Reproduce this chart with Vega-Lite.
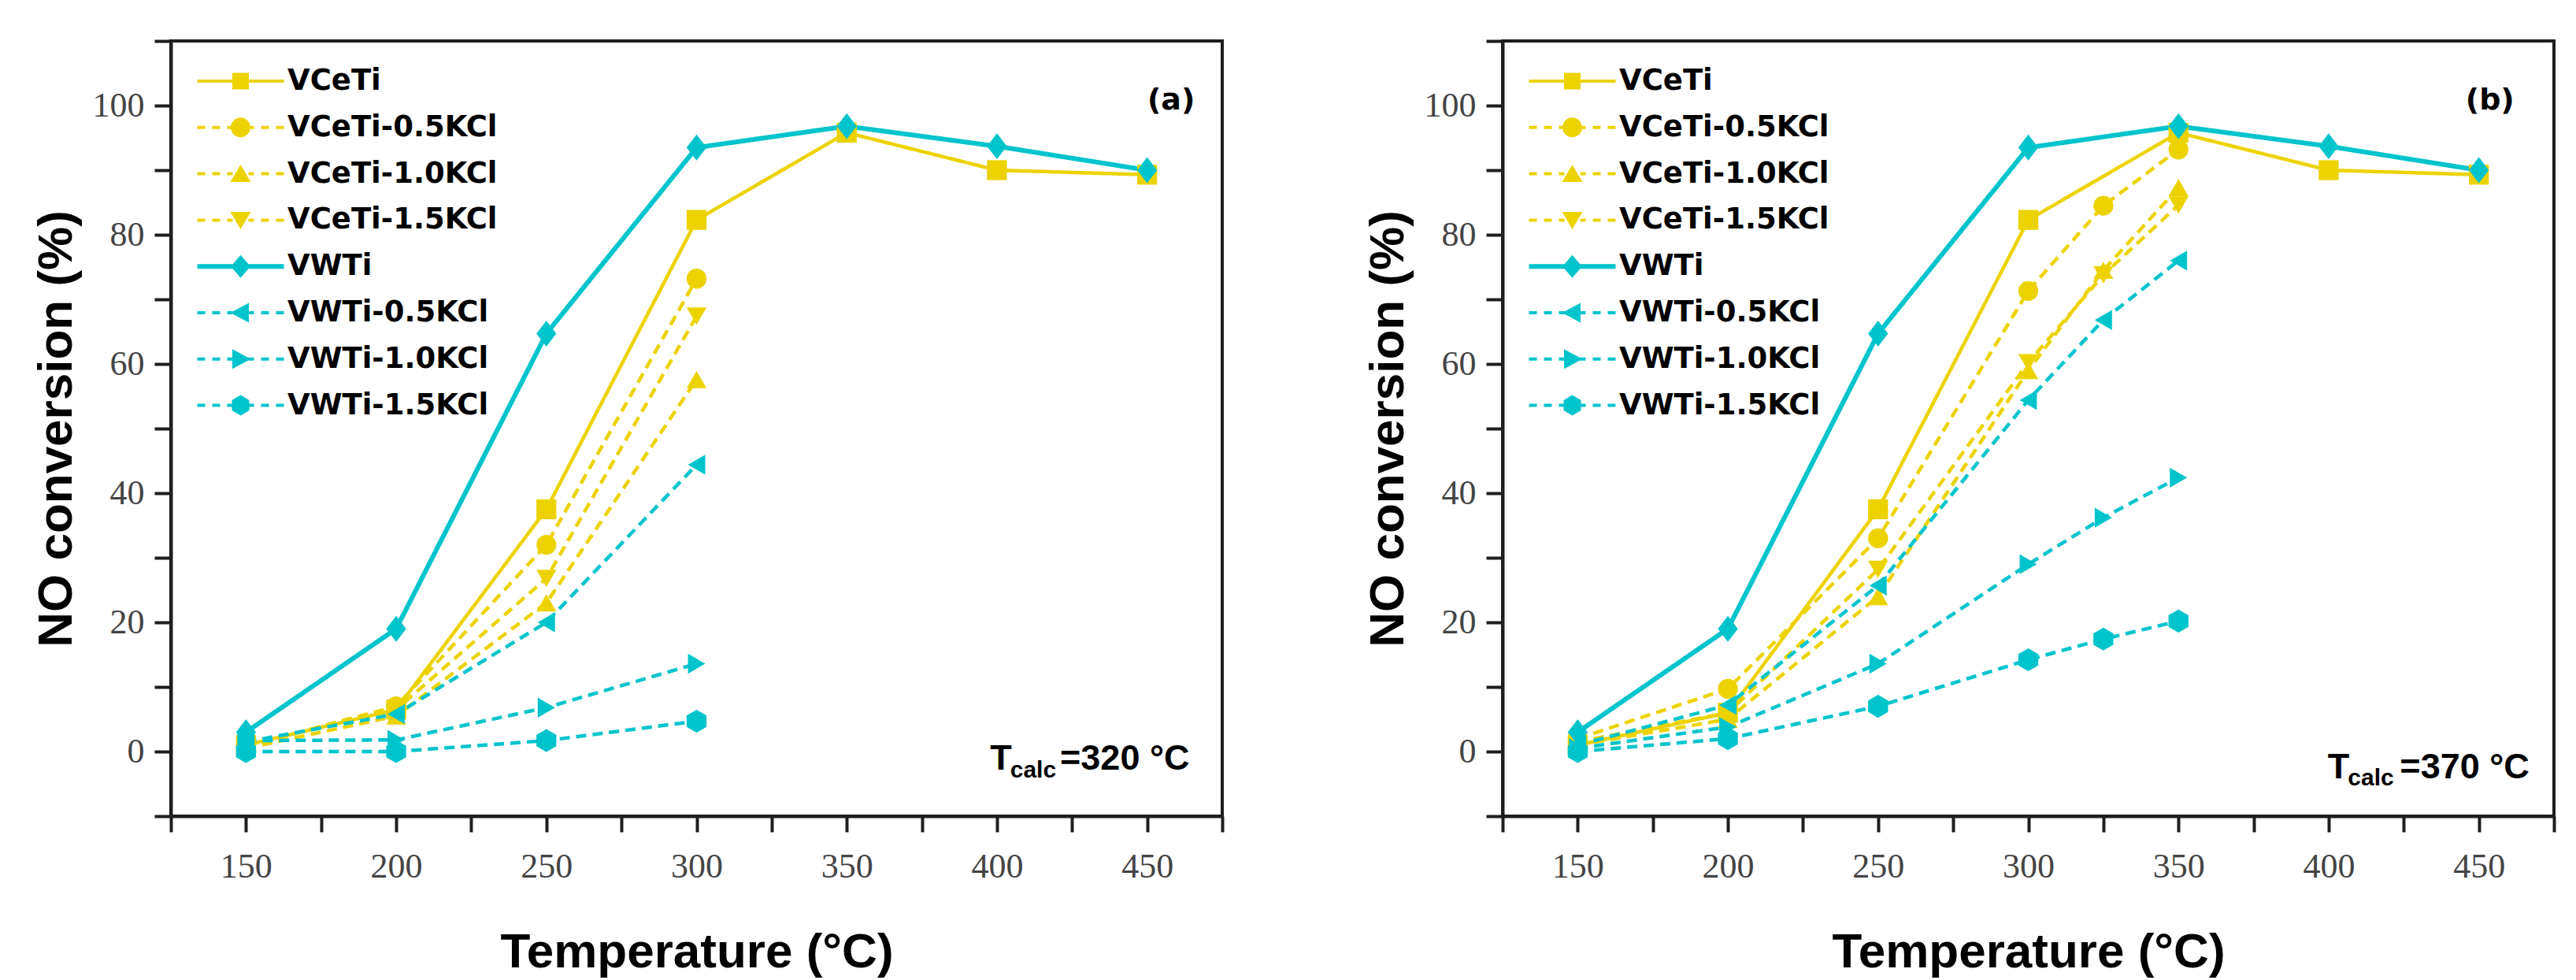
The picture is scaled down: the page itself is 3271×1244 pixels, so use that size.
{
  "$schema": "https://vega.github.io/schema/vega-lite/v6.json",
  "background": "white",
  "padding": {"left": 38, "top": 28, "right": 0, "bottom": 0},
  "spacing": 173,
  "datasets": {
    "a": [
      {"series": "VCeTi", "T": 150, "conv": 1.0},
      {"series": "VCeTi", "T": 200, "conv": 6.5},
      {"series": "VCeTi", "T": 250, "conv": 37.5},
      {"series": "VCeTi", "T": 300, "conv": 82.3},
      {"series": "VCeTi", "T": 350, "conv": 95.8},
      {"series": "VCeTi", "T": 400, "conv": 90.0},
      {"series": "VCeTi", "T": 450, "conv": 89.3},
      {"series": "VCeTi-0.5KCl", "T": 150, "conv": 0.8},
      {"series": "VCeTi-0.5KCl", "T": 200, "conv": 7.0},
      {"series": "VCeTi-0.5KCl", "T": 250, "conv": 32.0},
      {"series": "VCeTi-0.5KCl", "T": 300, "conv": 73.2},
      {"series": "VCeTi-1.0KCl", "T": 150, "conv": 0.5},
      {"series": "VCeTi-1.0KCl", "T": 200, "conv": 5.5},
      {"series": "VCeTi-1.0KCl", "T": 250, "conv": 23.0},
      {"series": "VCeTi-1.0KCl", "T": 300, "conv": 57.6},
      {"series": "VCeTi-1.5KCl", "T": 150, "conv": 1.0},
      {"series": "VCeTi-1.5KCl", "T": 200, "conv": 6.5},
      {"series": "VCeTi-1.5KCl", "T": 250, "conv": 26.8},
      {"series": "VCeTi-1.5KCl", "T": 300, "conv": 67.4},
      {"series": "VWTi", "T": 150, "conv": 3.0},
      {"series": "VWTi", "T": 200, "conv": 19.0},
      {"series": "VWTi", "T": 250, "conv": 64.7},
      {"series": "VWTi", "T": 300, "conv": 93.5},
      {"series": "VWTi", "T": 350, "conv": 96.8},
      {"series": "VWTi", "T": 400, "conv": 93.7},
      {"series": "VWTi", "T": 450, "conv": 90.0},
      {"series": "VWTi-0.5KCl", "T": 150, "conv": 1.5},
      {"series": "VWTi-0.5KCl", "T": 200, "conv": 5.8},
      {"series": "VWTi-0.5KCl", "T": 250, "conv": 20.0},
      {"series": "VWTi-0.5KCl", "T": 300, "conv": 44.4},
      {"series": "VWTi-1.0KCl", "T": 150, "conv": 1.7},
      {"series": "VWTi-1.0KCl", "T": 200, "conv": 1.8},
      {"series": "VWTi-1.0KCl", "T": 250, "conv": 6.8},
      {"series": "VWTi-1.0KCl", "T": 300, "conv": 13.6},
      {"series": "VWTi-1.5KCl", "T": 150, "conv": 0.0},
      {"series": "VWTi-1.5KCl", "T": 200, "conv": 0.0},
      {"series": "VWTi-1.5KCl", "T": 250, "conv": 1.7},
      {"series": "VWTi-1.5KCl", "T": 300, "conv": 4.7}
    ],
    "b": [
      {"series": "VCeTi", "T": 150, "conv": 1.0},
      {"series": "VCeTi", "T": 200, "conv": 6.0},
      {"series": "VCeTi", "T": 250, "conv": 37.5},
      {"series": "VCeTi", "T": 300, "conv": 82.3},
      {"series": "VCeTi", "T": 350, "conv": 95.8},
      {"series": "VCeTi", "T": 400, "conv": 90.0},
      {"series": "VCeTi", "T": 450, "conv": 89.3},
      {"series": "VCeTi-0.5KCl", "T": 150, "conv": 2.0},
      {"series": "VCeTi-0.5KCl", "T": 200, "conv": 9.7},
      {"series": "VCeTi-0.5KCl", "T": 250, "conv": 33.0},
      {"series": "VCeTi-0.5KCl", "T": 300, "conv": 71.3},
      {"series": "VCeTi-0.5KCl", "T": 325, "conv": 84.5},
      {"series": "VCeTi-0.5KCl", "T": 350, "conv": 93.2},
      {"series": "VCeTi-1.0KCl", "T": 150, "conv": 1.0},
      {"series": "VCeTi-1.0KCl", "T": 200, "conv": 5.0},
      {"series": "VCeTi-1.0KCl", "T": 250, "conv": 24.0},
      {"series": "VCeTi-1.0KCl", "T": 300, "conv": 59.0},
      {"series": "VCeTi-1.0KCl", "T": 325, "conv": 74.5},
      {"series": "VCeTi-1.0KCl", "T": 350, "conv": 87.3},
      {"series": "VCeTi-1.5KCl", "T": 150, "conv": 1.5},
      {"series": "VCeTi-1.5KCl", "T": 200, "conv": 6.0},
      {"series": "VCeTi-1.5KCl", "T": 250, "conv": 28.2},
      {"series": "VCeTi-1.5KCl", "T": 300, "conv": 60.2},
      {"series": "VCeTi-1.5KCl", "T": 325, "conv": 73.8},
      {"series": "VCeTi-1.5KCl", "T": 350, "conv": 84.6},
      {"series": "VWTi", "T": 150, "conv": 3.0},
      {"series": "VWTi", "T": 200, "conv": 19.0},
      {"series": "VWTi", "T": 250, "conv": 64.7},
      {"series": "VWTi", "T": 300, "conv": 93.5},
      {"series": "VWTi", "T": 350, "conv": 96.8},
      {"series": "VWTi", "T": 400, "conv": 93.7},
      {"series": "VWTi", "T": 450, "conv": 90.0},
      {"series": "VWTi-0.5KCl", "T": 150, "conv": 1.0},
      {"series": "VWTi-0.5KCl", "T": 200, "conv": 7.2},
      {"series": "VWTi-0.5KCl", "T": 250, "conv": 25.7},
      {"series": "VWTi-0.5KCl", "T": 300, "conv": 54.4},
      {"series": "VWTi-0.5KCl", "T": 325, "conv": 66.8},
      {"series": "VWTi-0.5KCl", "T": 350, "conv": 76.0},
      {"series": "VWTi-1.0KCl", "T": 150, "conv": 0.5},
      {"series": "VWTi-1.0KCl", "T": 200, "conv": 3.8},
      {"series": "VWTi-1.0KCl", "T": 250, "conv": 13.6},
      {"series": "VWTi-1.0KCl", "T": 300, "conv": 29.0},
      {"series": "VWTi-1.0KCl", "T": 325, "conv": 36.2},
      {"series": "VWTi-1.0KCl", "T": 350, "conv": 42.4},
      {"series": "VWTi-1.5KCl", "T": 150, "conv": 0.0},
      {"series": "VWTi-1.5KCl", "T": 200, "conv": 2.0},
      {"series": "VWTi-1.5KCl", "T": 250, "conv": 7.0},
      {"series": "VWTi-1.5KCl", "T": 300, "conv": 14.2},
      {"series": "VWTi-1.5KCl", "T": 325, "conv": 17.4},
      {"series": "VWTi-1.5KCl", "T": 350, "conv": 20.2}
    ],
    "notes": [{"note": "panel"}]
  },
  "hconcat": [
    {
      "data": {"name": "a"},
      "width": 1335,
      "height": 984,
      "resolve": {"scale": {"color": "independent", "shape": "independent"}},
      "layer": [
        {
          "mark": {"type": "line"},
          "encoding": {
            "x": {
              "field": "T", "type": "quantitative",
              "scale": {"domain": [125, 475], "nice": false, "zero": false},
              "axis": {
                "title": "Temperature (°C)",
                "values": [125, 150, 175, 200, 225, 250, 275, 300, 325, 350, 375, 400, 425, 450, 475],
                "labelExpr": "datum.value % 50 === 0 ? datum.label : ''",
                "tickSize": 20, "labelPadding": 22,
                "titleY": 191, "titleBaseline": "alphabetic",
                "encode": {"ticks": {"update": {"y2": {"signal": "datum.value % 50 === 0 ? 20 : 10"}}}}
              }
            },
            "y": {
              "field": "conv", "type": "quantitative",
              "scale": {"domain": [-10, 110], "nice": false, "zero": false},
              "axis": {
                "title": "NO conversion (%)",
                "values": [-10, 0, 10, 20, 30, 40, 50, 60, 70, 80, 90, 100, 110],
                "labelExpr": "datum.value % 20 === 0 ? datum.label : ''",
                "tickSize": 21, "labelPadding": 13,
                "titleX": -127, "titleBaseline": "alphabetic",
                "encode": {"ticks": {"update": {"x2": {"signal": "datum.value % 20 === 0 ? -21 : -11"}}}}
              }
            },
            "color": {"field": "series", "type": "nominal", "legend": null,
              "scale": {"domain": ["VCeTi", "VCeTi-0.5KCl", "VCeTi-1.0KCl", "VCeTi-1.5KCl", "VWTi", "VWTi-0.5KCl", "VWTi-1.0KCl", "VWTi-1.5KCl"],
                "range": ["#ECD300", "#ECD300", "#ECD300", "#ECD300", "#00C4CC", "#00C4CC", "#00C4CC", "#00C4CC"]}},
            "strokeDash": {"field": "series", "type": "nominal", "legend": null,
              "scale": {"domain": ["VCeTi", "VCeTi-0.5KCl", "VCeTi-1.0KCl", "VCeTi-1.5KCl", "VWTi", "VWTi-0.5KCl", "VWTi-1.0KCl", "VWTi-1.5KCl"],
                "range": [[1, 0], [13, 8], [13, 8], [13, 8], [1, 0], [13, 8], [13, 8], [13, 8]]}},
            "strokeWidth": {"condition": {"test": "datum.series === 'VWTi'", "value": 6}, "value": 4.5}
          }
        },
        {
          "mark": {"type": "point", "filled": true, "opacity": 1, "size": 640, "strokeWidth": 0},
          "encoding": {
            "x": {"field": "T", "type": "quantitative", "scale": {"domain": [125, 475], "nice": false, "zero": false}},
            "y": {"field": "conv", "type": "quantitative", "scale": {"domain": [-10, 110], "nice": false, "zero": false}},
            "color": {"field": "series", "type": "nominal", "legend": null,
              "scale": {"domain": ["VCeTi", "VCeTi-0.5KCl", "VCeTi-1.0KCl", "VCeTi-1.5KCl", "VWTi", "VWTi-0.5KCl", "VWTi-1.0KCl", "VWTi-1.5KCl"],
                "range": ["#ECD300", "#ECD300", "#ECD300", "#ECD300", "#00C4CC", "#00C4CC", "#00C4CC", "#00C4CC"]}},
            "shape": {"field": "series", "type": "nominal", "legend": null,
              "scale": {"domain": ["VCeTi", "VCeTi-0.5KCl", "VCeTi-1.0KCl", "VCeTi-1.5KCl", "VWTi", "VWTi-0.5KCl", "VWTi-1.0KCl", "VWTi-1.5KCl"],
                "range": ["square", "circle", "triangle-up", "triangle-down", "M0,-1.3L1,0L0,1.3L-1,0Z", "triangle-left", "triangle-right", "M0,-1.15L1,-0.575L1,0.575L0,1.15L-1,0.575L-1,-0.575Z"]}}
          }
        },
        {
          "transform": [{"filter": "false"}],
          "mark": {"type": "point", "filled": true, "opacity": 1, "size": 400},
          "encoding": {
            "x": {"field": "T", "type": "quantitative", "scale": {"domain": [125, 475], "nice": false, "zero": false}},
            "y": {"field": "conv", "type": "quantitative", "scale": {"domain": [-10, 110], "nice": false, "zero": false}},
            "color": {"field": "series", "type": "nominal",
              "legend": {"title": null, "orient": "none", "legendX": 70, "legendY": 32.5},
              "scale": {"domain": ["VCeTi", "VCeTi-0.5KCl", "VCeTi-1.0KCl", "VCeTi-1.5KCl", "VWTi", "VWTi-0.5KCl", "VWTi-1.0KCl", "VWTi-1.5KCl"],
                "range": ["#ECD300", "#ECD300", "#ECD300", "#ECD300", "#00C4CC", "#00C4CC", "#00C4CC", "#00C4CC"]}},
            "shape": {"field": "series", "type": "nominal",
              "legend": {"title": null, "orient": "none", "legendX": 70, "legendY": 32.5},
              "scale": {"domain": ["VCeTi", "VCeTi-0.5KCl", "VCeTi-1.0KCl", "VCeTi-1.5KCl", "VWTi", "VWTi-0.5KCl", "VWTi-1.0KCl", "VWTi-1.5KCl"],
                "range": [
                  "M-5.5,-0.2H5.5V0.2H-5.5Z M-1.05,-1.05H1.05V1.05H-1.05Z",
                  "M-5.5,-0.2H-4.5V0.2H-5.5Z M-3.6,-0.2H-2.6V0.2H-3.6Z M-1.7,-0.2H-1V0.2H-1.7Z M1,-0.2H1.7V0.2H1Z M2.6,-0.2H3.6V0.2H2.6Z M4.5,-0.2H5.5V0.2H4.5Z M-1.25,0A1.25,1.25 0 1,1 1.25,0A1.25,1.25 0 1,1 -1.25,0Z",
                  "M-5.5,-0.2H-4.5V0.2H-5.5Z M-3.6,-0.2H-2.6V0.2H-3.6Z M-1.7,-0.2H-1V0.2H-1.7Z M1,-0.2H1.7V0.2H1Z M2.6,-0.2H3.6V0.2H2.6Z M4.5,-0.2H5.5V0.2H4.5Z M0,-1.15L1.3,1.05L-1.3,1.05Z",
                  "M-5.5,-0.2H-4.5V0.2H-5.5Z M-3.6,-0.2H-2.6V0.2H-3.6Z M-1.7,-0.2H-1V0.2H-1.7Z M1,-0.2H1.7V0.2H1Z M2.6,-0.2H3.6V0.2H2.6Z M4.5,-0.2H5.5V0.2H4.5Z M-1.3,-1.05L1.3,-1.05L0,1.15Z",
                  "M-5.5,-0.3H5.5V0.3H-5.5Z M0,-1.45L1.25,0L0,1.45L-1.25,0Z",
                  "M-5.5,-0.2H-4.5V0.2H-5.5Z M-3.6,-0.2H-2.6V0.2H-3.6Z M-1.7,-0.2H-1V0.2H-1.7Z M1,-0.2H1.7V0.2H1Z M2.6,-0.2H3.6V0.2H2.6Z M4.5,-0.2H5.5V0.2H4.5Z M-1.3,0L1.05,-1.25L1.05,1.25Z",
                  "M-5.5,-0.2H-4.5V0.2H-5.5Z M-3.6,-0.2H-2.6V0.2H-3.6Z M-1.7,-0.2H-1V0.2H-1.7Z M1,-0.2H1.7V0.2H1Z M2.6,-0.2H3.6V0.2H2.6Z M4.5,-0.2H5.5V0.2H4.5Z M-1.05,-1.25L1.3,0L-1.05,1.25Z",
                  "M-5.5,-0.2H-4.5V0.2H-5.5Z M-3.6,-0.2H-2.6V0.2H-3.6Z M-1.7,-0.2H-1V0.2H-1.7Z M1,-0.2H1.7V0.2H1Z M2.6,-0.2H3.6V0.2H2.6Z M4.5,-0.2H5.5V0.2H4.5Z M0,-1.3L1.1,-0.65L1.1,0.65L0,1.3L-1.1,0.65L-1.1,-0.65Z"
                ]}}
          }
        },
        {
          "data": {"name": "notes"},
          "mark": {"type": "text", "font": "DejaVu Sans", "fontWeight": "bold", "fontSize": 38, "align": "center", "baseline": "middle", "fill": "#000000"},
          "encoding": {"x": {"datum": 458}, "y": {"datum": 100.7}, "text": {"value": "(a)"}}
        },
        {
          "data": {"name": "notes"},
          "mark": {"type": "text", "font": "Liberation Sans", "fontWeight": "bold", "fontSize": 45, "align": "left", "baseline": "alphabetic", "fill": "#000000"},
          "encoding": {"x": {"datum": 397.7}, "y": {"datum": -2.75}, "text": {"value": "T"}}
        },
        {
          "data": {"name": "notes"},
          "mark": {"type": "text", "font": "Liberation Sans", "fontWeight": "bold", "fontSize": 30, "align": "left", "baseline": "alphabetic", "fill": "#000000"},
          "encoding": {"x": {"datum": 404.4}, "y": {"datum": -3.97}, "text": {"value": "calc"}}
        },
        {
          "data": {"name": "notes"},
          "mark": {"type": "text", "font": "Liberation Sans", "fontWeight": "bold", "fontSize": 45, "align": "right", "baseline": "alphabetic", "fill": "#000000"},
          "encoding": {"x": {"datum": 464.1}, "y": {"datum": -2.75}, "text": {"value": "=320 °C"}}
        }
      ]
    },
    {
      "data": {"name": "b"},
      "width": 1335,
      "height": 984,
      "resolve": {"scale": {"color": "independent", "shape": "independent"}},
      "layer": [
        {
          "mark": {"type": "line"},
          "encoding": {
            "x": {
              "field": "T", "type": "quantitative",
              "scale": {"domain": [125, 475], "nice": false, "zero": false},
              "axis": {
                "title": "Temperature (°C)",
                "values": [125, 150, 175, 200, 225, 250, 275, 300, 325, 350, 375, 400, 425, 450, 475],
                "labelExpr": "datum.value % 50 === 0 ? datum.label : ''",
                "tickSize": 20, "labelPadding": 22,
                "titleY": 191, "titleBaseline": "alphabetic",
                "encode": {"ticks": {"update": {"y2": {"signal": "datum.value % 50 === 0 ? 20 : 10"}}}}
              }
            },
            "y": {
              "field": "conv", "type": "quantitative",
              "scale": {"domain": [-10, 110], "nice": false, "zero": false},
              "axis": {
                "title": "NO conversion (%)",
                "values": [-10, 0, 10, 20, 30, 40, 50, 60, 70, 80, 90, 100, 110],
                "labelExpr": "datum.value % 20 === 0 ? datum.label : ''",
                "tickSize": 21, "labelPadding": 13,
                "titleX": -127, "titleBaseline": "alphabetic",
                "encode": {"ticks": {"update": {"x2": {"signal": "datum.value % 20 === 0 ? -21 : -11"}}}}
              }
            },
            "color": {"field": "series", "type": "nominal", "legend": null,
              "scale": {"domain": ["VCeTi", "VCeTi-0.5KCl", "VCeTi-1.0KCl", "VCeTi-1.5KCl", "VWTi", "VWTi-0.5KCl", "VWTi-1.0KCl", "VWTi-1.5KCl"],
                "range": ["#ECD300", "#ECD300", "#ECD300", "#ECD300", "#00C4CC", "#00C4CC", "#00C4CC", "#00C4CC"]}},
            "strokeDash": {"field": "series", "type": "nominal", "legend": null,
              "scale": {"domain": ["VCeTi", "VCeTi-0.5KCl", "VCeTi-1.0KCl", "VCeTi-1.5KCl", "VWTi", "VWTi-0.5KCl", "VWTi-1.0KCl", "VWTi-1.5KCl"],
                "range": [[1, 0], [13, 8], [13, 8], [13, 8], [1, 0], [13, 8], [13, 8], [13, 8]]}},
            "strokeWidth": {"condition": {"test": "datum.series === 'VWTi'", "value": 6}, "value": 4.5}
          }
        },
        {
          "mark": {"type": "point", "filled": true, "opacity": 1, "size": 640, "strokeWidth": 0},
          "encoding": {
            "x": {"field": "T", "type": "quantitative", "scale": {"domain": [125, 475], "nice": false, "zero": false}},
            "y": {"field": "conv", "type": "quantitative", "scale": {"domain": [-10, 110], "nice": false, "zero": false}},
            "color": {"field": "series", "type": "nominal", "legend": null,
              "scale": {"domain": ["VCeTi", "VCeTi-0.5KCl", "VCeTi-1.0KCl", "VCeTi-1.5KCl", "VWTi", "VWTi-0.5KCl", "VWTi-1.0KCl", "VWTi-1.5KCl"],
                "range": ["#ECD300", "#ECD300", "#ECD300", "#ECD300", "#00C4CC", "#00C4CC", "#00C4CC", "#00C4CC"]}},
            "shape": {"field": "series", "type": "nominal", "legend": null,
              "scale": {"domain": ["VCeTi", "VCeTi-0.5KCl", "VCeTi-1.0KCl", "VCeTi-1.5KCl", "VWTi", "VWTi-0.5KCl", "VWTi-1.0KCl", "VWTi-1.5KCl"],
                "range": ["square", "circle", "triangle-up", "triangle-down", "M0,-1.3L1,0L0,1.3L-1,0Z", "triangle-left", "triangle-right", "M0,-1.15L1,-0.575L1,0.575L0,1.15L-1,0.575L-1,-0.575Z"]}}
          }
        },
        {
          "transform": [{"filter": "false"}],
          "mark": {"type": "point", "filled": true, "opacity": 1, "size": 400},
          "encoding": {
            "x": {"field": "T", "type": "quantitative", "scale": {"domain": [125, 475], "nice": false, "zero": false}},
            "y": {"field": "conv", "type": "quantitative", "scale": {"domain": [-10, 110], "nice": false, "zero": false}},
            "color": {"field": "series", "type": "nominal",
              "legend": {"title": null, "orient": "none", "legendX": 70, "legendY": 32.5},
              "scale": {"domain": ["VCeTi", "VCeTi-0.5KCl", "VCeTi-1.0KCl", "VCeTi-1.5KCl", "VWTi", "VWTi-0.5KCl", "VWTi-1.0KCl", "VWTi-1.5KCl"],
                "range": ["#ECD300", "#ECD300", "#ECD300", "#ECD300", "#00C4CC", "#00C4CC", "#00C4CC", "#00C4CC"]}},
            "shape": {"field": "series", "type": "nominal",
              "legend": {"title": null, "orient": "none", "legendX": 70, "legendY": 32.5},
              "scale": {"domain": ["VCeTi", "VCeTi-0.5KCl", "VCeTi-1.0KCl", "VCeTi-1.5KCl", "VWTi", "VWTi-0.5KCl", "VWTi-1.0KCl", "VWTi-1.5KCl"],
                "range": [
                  "M-5.5,-0.2H5.5V0.2H-5.5Z M-1.05,-1.05H1.05V1.05H-1.05Z",
                  "M-5.5,-0.2H-4.5V0.2H-5.5Z M-3.6,-0.2H-2.6V0.2H-3.6Z M-1.7,-0.2H-1V0.2H-1.7Z M1,-0.2H1.7V0.2H1Z M2.6,-0.2H3.6V0.2H2.6Z M4.5,-0.2H5.5V0.2H4.5Z M-1.25,0A1.25,1.25 0 1,1 1.25,0A1.25,1.25 0 1,1 -1.25,0Z",
                  "M-5.5,-0.2H-4.5V0.2H-5.5Z M-3.6,-0.2H-2.6V0.2H-3.6Z M-1.7,-0.2H-1V0.2H-1.7Z M1,-0.2H1.7V0.2H1Z M2.6,-0.2H3.6V0.2H2.6Z M4.5,-0.2H5.5V0.2H4.5Z M0,-1.15L1.3,1.05L-1.3,1.05Z",
                  "M-5.5,-0.2H-4.5V0.2H-5.5Z M-3.6,-0.2H-2.6V0.2H-3.6Z M-1.7,-0.2H-1V0.2H-1.7Z M1,-0.2H1.7V0.2H1Z M2.6,-0.2H3.6V0.2H2.6Z M4.5,-0.2H5.5V0.2H4.5Z M-1.3,-1.05L1.3,-1.05L0,1.15Z",
                  "M-5.5,-0.3H5.5V0.3H-5.5Z M0,-1.45L1.25,0L0,1.45L-1.25,0Z",
                  "M-5.5,-0.2H-4.5V0.2H-5.5Z M-3.6,-0.2H-2.6V0.2H-3.6Z M-1.7,-0.2H-1V0.2H-1.7Z M1,-0.2H1.7V0.2H1Z M2.6,-0.2H3.6V0.2H2.6Z M4.5,-0.2H5.5V0.2H4.5Z M-1.3,0L1.05,-1.25L1.05,1.25Z",
                  "M-5.5,-0.2H-4.5V0.2H-5.5Z M-3.6,-0.2H-2.6V0.2H-3.6Z M-1.7,-0.2H-1V0.2H-1.7Z M1,-0.2H1.7V0.2H1Z M2.6,-0.2H3.6V0.2H2.6Z M4.5,-0.2H5.5V0.2H4.5Z M-1.05,-1.25L1.3,0L-1.05,1.25Z",
                  "M-5.5,-0.2H-4.5V0.2H-5.5Z M-3.6,-0.2H-2.6V0.2H-3.6Z M-1.7,-0.2H-1V0.2H-1.7Z M1,-0.2H1.7V0.2H1Z M2.6,-0.2H3.6V0.2H2.6Z M4.5,-0.2H5.5V0.2H4.5Z M0,-1.3L1.1,-0.65L1.1,0.65L0,1.3L-1.1,0.65L-1.1,-0.65Z"
                ]}}
          }
        },
        {
          "data": {"name": "notes"},
          "mark": {"type": "text", "font": "DejaVu Sans", "fontWeight": "bold", "fontSize": 38, "align": "center", "baseline": "middle", "fill": "#000000"},
          "encoding": {"x": {"datum": 453.7}, "y": {"datum": 100.7}, "text": {"value": "(b)"}}
        },
        {
          "data": {"name": "notes"},
          "mark": {"type": "text", "font": "Liberation Sans", "fontWeight": "bold", "fontSize": 45, "align": "left", "baseline": "alphabetic", "fill": "#000000"},
          "encoding": {"x": {"datum": 399.7}, "y": {"datum": -4.1}, "text": {"value": "T"}}
        },
        {
          "data": {"name": "notes"},
          "mark": {"type": "text", "font": "Liberation Sans", "fontWeight": "bold", "fontSize": 30, "align": "left", "baseline": "alphabetic", "fill": "#000000"},
          "encoding": {"x": {"datum": 406.4}, "y": {"datum": -5.3}, "text": {"value": "calc"}}
        },
        {
          "data": {"name": "notes"},
          "mark": {"type": "text", "font": "Liberation Sans", "fontWeight": "bold", "fontSize": 45, "align": "right", "baseline": "alphabetic", "fill": "#000000"},
          "encoding": {"x": {"datum": 466.8}, "y": {"datum": -4.1}, "text": {"value": "=370 °C"}}
        }
      ]
    }
  ],
  "config": {
    "view": {"stroke": "#1e1e1e", "strokeWidth": 4},
    "axis": {
      "grid": false,
      "domainColor": "#1e1e1e",
      "domainWidth": 4,
      "tickColor": "#1e1e1e",
      "tickWidth": 4,
      "labelFont": "Liberation Serif",
      "labelFontSize": 44,
      "labelColor": "#444444",
      "labelOverlap": false,
      "labelFlush": false,
      "titleFont": "Liberation Sans",
      "titleFontWeight": "bold",
      "titleFontSize": 62,
      "titleColor": "#000000"
    },
    "legend": {
      "labelFont": "DejaVu Sans",
      "labelFontWeight": "bold",
      "labelFontSize": 37,
      "labelColor": "#000000",
      "labelLimit": 600,
      "labelOffset": 41,
      "symbolSize": 400,
      "symbolStrokeWidth": 0,
      "symbolOpacity": 1,
      "rowPadding": 20.8,
      "padding": 0
    }
  }
}
